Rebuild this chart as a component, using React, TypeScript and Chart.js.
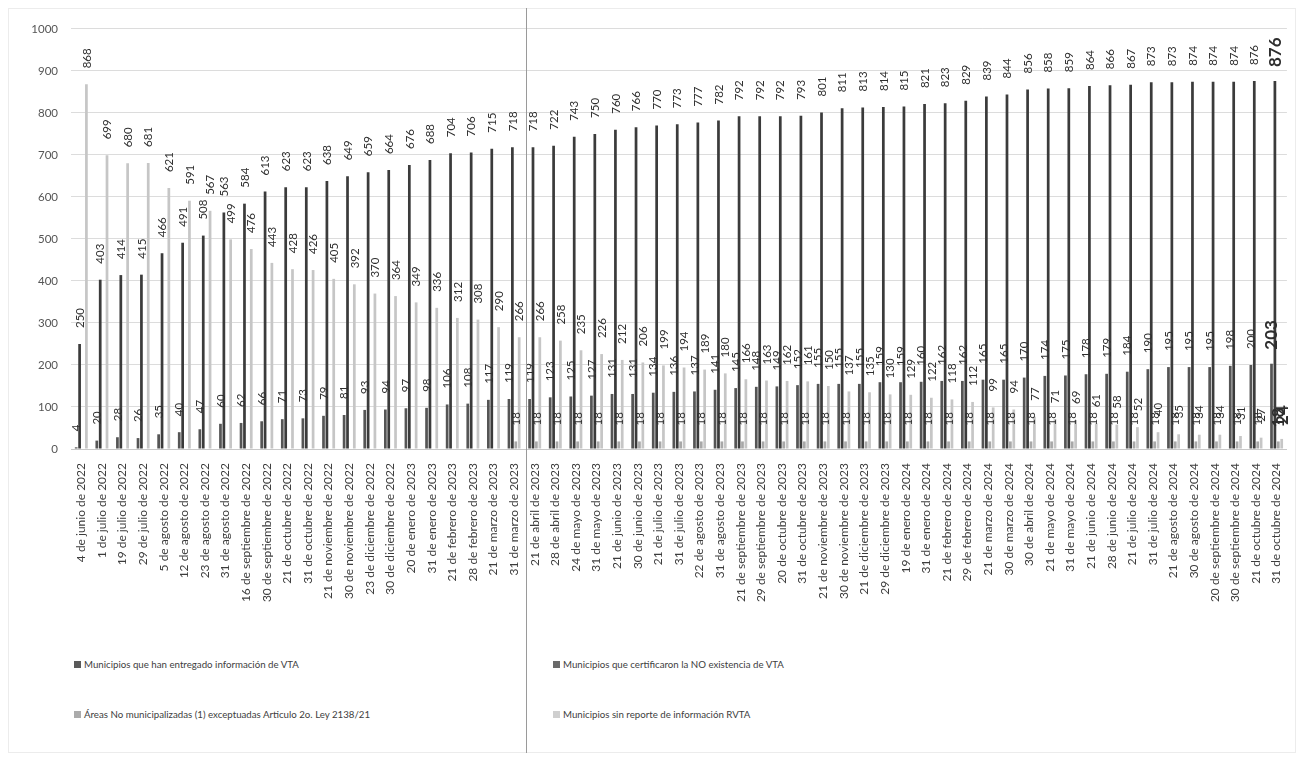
import React, { useEffect, useRef } from "react";
import { Chart, registerables } from "chart.js";

Chart.register(...registerables);

const categories: string[] = [
  "4 de junio de 2022", "1 de julio de 2022", "19 de julio de 2022", "29 de julio de 2022",
  "5 de agosto de 2022", "12 de agosto de 2022", "23 de agosto de 2022", "31 de agosto de 2022",
  "16 de septiembre de 2022", "30 de septiembre de 2022", "21 de octubre de 2022", "31 de octubre de 2022",
  "21 de noviembre de 2022", "30 de noviembre de 2022", "23 de diciembre de 2022", "30 de diciembre de 2022",
  "20 de enero de 2023", "31 de enero de 2023", "21 de febrero de 2023", "28 de febrero de 2023",
  "21 de marzo de 2023", "31 de marzo de 2023", "21 de abril de 2023", "28 de abril de 2023",
  "24 de mayo de 2023", "31 de mayo de 2023", "21 de junio de 2023", "30 de junio de 2023",
  "21 de julio de 2023", "31 de julio de 2023", "22 de agosto de 2023", "31 de agosto de 2023",
  "21 de septiembre de 2023", "29 de septiembre de 2023", "20 de octubre de 2023", "31 de octubre de 2023",
  "21 de noviembre de 2023", "30 de noviembre de 2023", "21 de diciembre de 2023", "29 de diciembre de 2023",
  "19 de enero de 2024", "31 de enero de 2024", "21 de febrero de 2024", "29 de febrero de 2024",
  "21 de marzo de 2024", "30 de marzo de 2024", "30 de abril de 2024", "21 de mayo de 2024",
  "31 de mayo de 2024", "21 de junio de 2024", "28 de junio de 2024", "21 de julio de 2024",
  "31 de julio de 2024", "21 de agosto de 2024", "30 de agosto de 2024", "20 de septiembre de 2024",
  "30 de septiembre de 2024", "21 de octubre de 2024", "31 de octubre de 2024",
];

const entregado: number[] = [
  250, 403, 414, 415, 466, 491, 508, 563, 584, 613, 623, 623, 638, 649, 659, 664, 676, 688, 704, 706,
  715, 718, 718, 722, 743, 750, 760, 766, 770, 773, 777, 782, 792, 792, 792, 793, 801, 811, 813, 814,
  815, 821, 823, 829, 839, 844, 856, 858, 859, 864, 866, 867, 873, 873, 874, 874, 874, 876, 876,
];

const noExistencia: number[] = [
  4, 20, 28, 26, 35, 40, 47, 60, 62, 66, 71, 73, 79, 81, 93, 94, 97, 98, 106, 108,
  117, 119, 119, 123, 125, 127, 131, 131, 134, 136, 137, 141, 145, 148, 149, 152, 155, 155, 155, 159,
  159, 160, 162, 162, 165, 165, 170, 174, 175, 178, 179, 184, 190, 195, 195, 195, 198, 200, 203,
];

const areasNoMunicipalizadas: (number | null)[] = [
  null, null, null, null, null, null, null, null, null, null, null, null, null, null, null, null, null, null, null, null,
  null, 18, 18, 18, 18, 18, 18, 18, 18, 18, 18, 18, 18, 18, 18, 18, 18, 18, 18, 18,
  18, 18, 18, 18, 18, 18, 18, 18, 18, 18, 18, 18, 18, 18, 18, 18, 18, 18, 18,
];

const sinReporte: number[] = [
  868, 699, 680, 681, 621, 591, 567, 499, 476, 443, 428, 426, 405, 392, 370, 364, 349, 336, 312, 308,
  290, 266, 266, 258, 235, 226, 212, 206, 199, 194, 189, 180, 166, 163, 162, 161, 150, 137, 135, 130,
  129, 122, 118, 112, 99, 94, 77, 71, 69, 61, 58, 52, 40, 35, 34, 34, 31, 27, 24,
];

const yTicks: number[] = [0, 100, 200, 300, 400, 500, 600, 700, 800, 900, 1000];

const seriesNames = {
  entregado: "Municipios que han entregado información de VTA",
  noExistencia: "Municipios que certificaron la NO existencia de VTA",
  areas: "Áreas No municipalizadas (1) exceptuadas Articulo 2o. Ley 2138/21",
  sinReporte: "Municipios sin reporte de información RVTA",
};

const FONT = "Lato, 'Open Sans', sans-serif";

const barLabels = {
  id: "barLabels",
  afterDatasetsDraw(chart: any) {
    const ctx = chart.ctx;
    const n = chart.data.labels.length;
    chart.data.datasets.forEach((ds: any, di: number) => {
      const meta = chart.getDatasetMeta(di);
      meta.data.forEach((bar: any, i: number) => {
        const v = ds.data[i];
        if (v == null) return;
        const last = i === n - 1;
        ctx.save();
        ctx.translate(bar.x + 0.5, bar.y - (last ? 14 : 16));
        ctx.rotate(-Math.PI / 2);
        ctx.font = last ? `bold 17px ${FONT}` : `11.5px ${FONT}`;
        ctx.textAlign = "left";
        ctx.textBaseline = "middle";
        ctx.fillStyle = "#2e2e2e";
        ctx.fillText(String(v), 0, 0);
        ctx.restore();
      });
    });
  },
};

export default function App() {
  const ref = useRef<HTMLCanvasElement | null>(null);

  useEffect(() => {
    if (!ref.current) return;
    const chart = new Chart(ref.current, {
      type: "bar",
      data: {
        labels: categories,
        datasets: [
          { label: seriesNames.noExistencia, data: noExistencia, backgroundColor: "#555555" },
          { label: seriesNames.entregado, data: entregado, backgroundColor: "#3b3b3b" },
          { label: seriesNames.areas, data: areasNoMunicipalizadas, backgroundColor: "#a8a8a8" },
          { label: seriesNames.sinReporte, data: sinReporte, backgroundColor: "#c6c6c6" },
        ],
      },
      options: {
        animation: false,
        responsive: false,
        maintainAspectRatio: false,
        layout: { padding: { top: 16, left: 20, right: 0, bottom: 20 } },
        datasets: { bar: { categoryPercentage: 0.66, barPercentage: 0.8 } },
        plugins: { legend: { display: false }, tooltip: { enabled: false } },
        scales: {
          x: {
            grid: { display: false },
            border: { display: true, color: "#c8c8c8" },
            ticks: {
              autoSkip: false,
              minRotation: 90,
              maxRotation: 90,
              padding: 6,
              color: "#3c3c3c",
              font: { family: FONT, size: 12 },
            },
            afterFit: (s: any) => { s.height = 160; },
          },
          y: {
            min: 0,
            max: 1000,
            afterBuildTicks: (s: any) => { s.ticks = yTicks.map((v) => ({ value: v })); },
            grid: { color: "#dcdcdc", drawTicks: false },
            border: { display: false },
            ticks: {
              padding: 13,
              color: "#555555",
              font: { family: FONT, size: 11.5 },
              callback: (v: any) => String(v),
            },
            afterFit: (s: any) => { s.width = 42; },
          },
        },
      },
      plugins: [barLabels],
    });
    return () => chart.destroy();
  }, []);

  const legendItem = (color: string, text: string, left: number, top: number) => (
    <div
      style={{
        position: "absolute",
        left,
        top,
        display: "flex",
        alignItems: "center",
        fontFamily: FONT,
        fontSize: 9.7,
        color: "#404040",
        whiteSpace: "nowrap",
      }}
    >
      <span style={{ display: "inline-block", width: 7, height: 7, background: color, marginRight: 3 }} />
      {text}
    </div>
  );

  return (
    <div style={{ position: "relative", width: 1288, height: 745, border: "1px solid #ececec", boxSizing: "border-box" }}>
      <canvas ref={ref} width={1288} height={620} style={{ display: "block" }} />
      {legendItem("#5a5a5a", seriesNames.entregado, 65, 649)}
      {legendItem("#6a6a6a", seriesNames.noExistencia, 544, 649)}
      {legendItem("#ababab", seriesNames.areas, 65, 699)}
      {legendItem("#cfcfcf", seriesNames.sinReporte, 544, 699)}
      <div style={{ position: "absolute", left: 517, top: -8, width: 1, height: 761, background: "#9a9a9a" }} />
    </div>
  );
}
